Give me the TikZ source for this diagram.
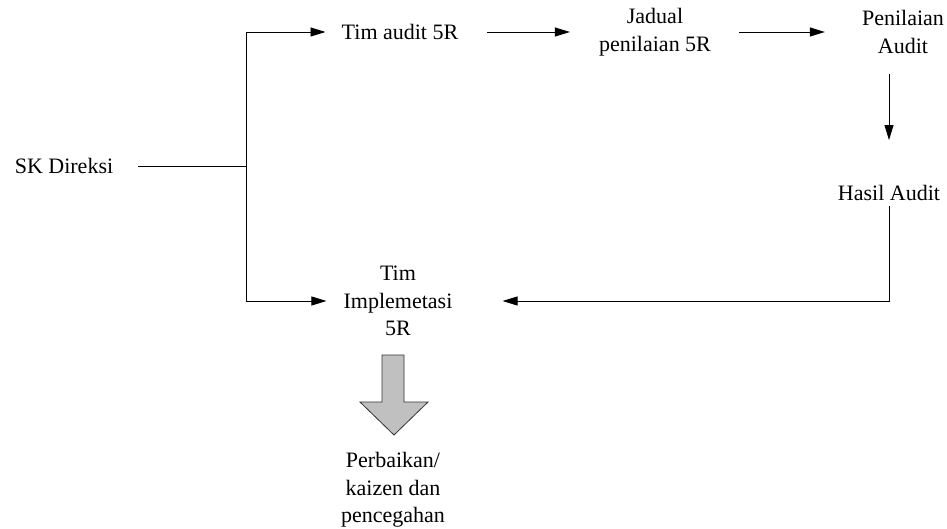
\documentclass[tikz,border=0pt]{standalone}
\usepackage{fontspec}
\setmainfont{Liberation Serif}
\usetikzlibrary{arrows.meta}
\begin{document}
\begin{tikzpicture}[x=1pt,y=-1pt,
  lbl/.style={inner sep=0pt,align=center,font=\fontsize{22}{27.5}\selectfont},
  conn/.style={line width=0.9pt,draw=black},
  arr/.style={conn,-{Triangle[length=15pt,width=9pt]}},
  bigarrow/.style={fill={rgb,255:red,192;green,192;blue,192},draw=black!80,line width=0.8pt,line join=miter}]
\useasboundingbox (0,0) rectangle (947,529);

% labels
\node[lbl] (sk)  at (64,166)  {SK Direksi};
\node[lbl] (tim) at (400,32)  {Tim audit 5R};
\node[lbl] (jad) at (655,32)  {Jadual\\penilaian 5R};
\node[lbl] (pen) at (903,32)  {Penilaian\\Audit};
\node[lbl] (has) at (889,193) {Hasil Audit};
\node[lbl] (imp) at (398,301) {Tim\\Implemetasi\\5R};
\node[lbl] (per) at (393,490) {Perbaikan/\\kaizen dan\\pencegahan};

% branch point of the decree line
\coordinate (j) at (246,166);

% connectors
\draw[conn,shorten <=25pt] (sk.east) -- (j);
\draw[arr,shorten >=16pt] (j) |- (tim.west);
\draw[arr,shorten >=17pt] (j) |- (imp.west);
\draw[arr,shorten <=29pt,shorten >=29pt] (tim.east) -- (jad.west);
\draw[arr,shorten <=28pt,shorten >=37pt] (jad.east) -- (pen.west);
\draw[arr,shorten <=20pt,shorten >=45pt] (pen.south -| has) -- (has.north);
\draw[arr,shorten <=5pt,shorten >=50pt] (has.south) |- (imp.east);

% block arrow towards improvement
\draw[bigarrow] (382,355) -- (404,355) -- (404,402) -- (428,402) -- (394,435)
  -- (360,402) -- (382,402) -- cycle;
\end{tikzpicture}
\end{document}
